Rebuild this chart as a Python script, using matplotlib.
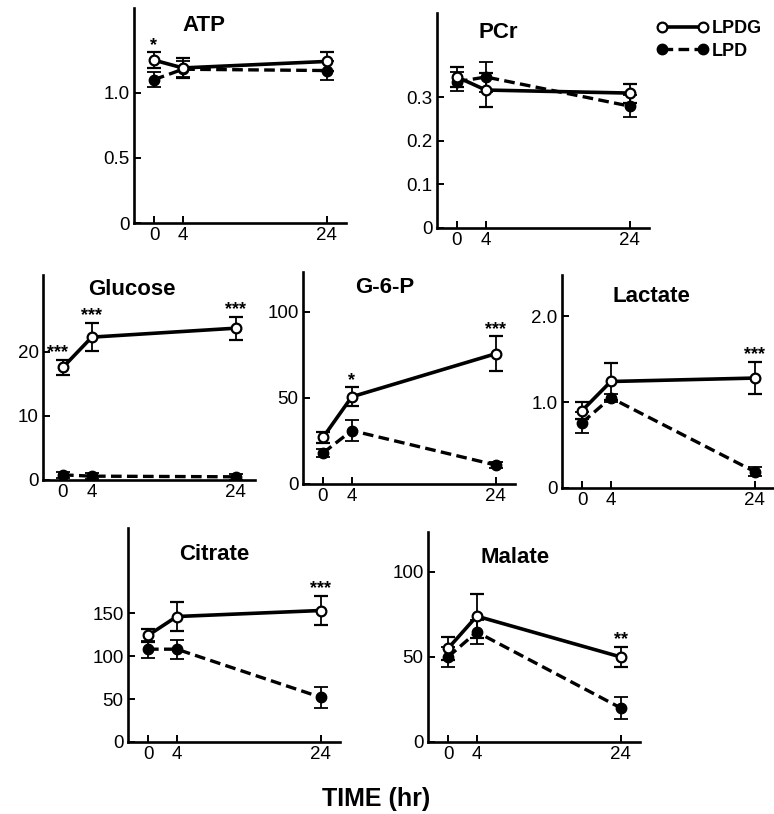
import numpy as np
import matplotlib.pyplot as plt
from matplotlib.lines import Line2D

plt.rcParams['font.family'] = ['Liberation Sans', 'DejaVu Sans']

# time points (hr)
times = [0, 4, 24]

# values: mean and error for each group
atp_lpdg = [1.25, 1.19, 1.24]
atp_lpdg_err = [0.06, 0.08, 0.07]
atp_lpd = [1.10, 1.18, 1.17]
atp_lpd_err = [0.06, 0.06, 0.07]
atp_stars = ['*', '', '']

pcr_lpdg = [0.347, 0.317, 0.31]
pcr_lpdg_err = [0.024, 0.04, 0.022]
pcr_lpd = [0.336, 0.347, 0.28]
pcr_lpd_err = [0.022, 0.034, 0.026]
pcr_stars = ['', '', '']

glucose_lpdg = [17.6, 22.3, 23.7]
glucose_lpdg_err = [1.2, 2.2, 1.8]
glucose_lpd = [0.8, 0.6, 0.5]
glucose_lpd_err = [0.5, 0.5, 0.5]
glucose_stars = ['***', '***', '***']

g6p_lpdg = [27, 50.6, 75.6]
g6p_lpdg_err = [3, 5.5, 10]
g6p_lpd = [18, 31, 11]
g6p_lpd_err = [2.5, 6, 2]
g6p_stars = ['', '*', '***']

lactate_lpdg = [0.90, 1.24, 1.28]
lactate_lpdg_err = [0.10, 0.21, 0.19]
lactate_lpd = [0.76, 1.05, 0.19]
lactate_lpd_err = [0.12, 0.05, 0.05]
lactate_stars = ['', '', '***']

citrate_lpdg = [124, 146, 153]
citrate_lpdg_err = [8, 17, 17]
citrate_lpd = [108, 108, 52]
citrate_lpd_err = [10, 11, 12]
citrate_stars = ['', '', '***']

malate_lpdg = [55, 74, 50]
malate_lpdg_err = [7, 13, 6]
malate_lpd = [50, 64.7, 20]
malate_lpd_err = [6, 7, 6.5]
malate_stars = ['', '', '**']

W, H = 774, 814
fig = plt.figure(figsize=(W / 100, H / 100), dpi=100)

PX = 7.2       # pixels per hour
XMIN, XMAX = -2.8, 26.7


def make_ax(x0_px, bottom_px, top_px, ymax):
    left = (x0_px + XMIN * PX) / W
    width = (XMAX - XMIN) * PX / W
    ax = fig.add_axes([left, 1 - bottom_px / H, width, (bottom_px - top_px) / H])
    ax.set_xlim(XMIN, XMAX)
    ax.set_ylim(0, ymax)
    for s in ['top', 'right']:
        ax.spines[s].set_visible(False)
    for s in ['left', 'bottom']:
        ax.spines[s].set_linewidth(1.9)
    ax.tick_params(direction='in', length=5, width=1.4, labelsize=13.5, pad=3)
    ax.set_xticks(times)
    return ax


def draw(ax, lpdg, lpdg_err, lpd, lpd_err, stars, title, tx, ty, yticks, ylabels,
         star_dx=None):
    ax.errorbar(times, lpd, yerr=lpd_err, fmt='o', ls=(0, (3.2, 1.6)), lw=2.4,
                color='black', ms=7.5, mfc='black', capsize=5, elinewidth=1.3,
                capthick=1.3, zorder=2)
    ax.errorbar(times, lpdg, yerr=lpdg_err, fmt='o', ls='-', lw=2.6,
                color='black', ms=7, mfc='white', mew=1.6, capsize=5,
                elinewidth=1.3, capthick=1.3, zorder=3)
    for i, s in enumerate(stars):
        if s:
            dx = star_dx[i] if star_dx else 0
            ax.annotate(s, (times[i], lpdg[i] + lpdg_err[i]), xytext=(dx, -1),
                        textcoords='offset points', ha='center', va='bottom',
                        fontsize=13, fontweight='bold')
    ax.text(tx, ty, title, transform=ax.transAxes, ha='center', va='center',
            fontsize=16, fontweight='bold')
    ax.set_yticks(yticks)
    ax.set_yticklabels(ylabels)


ax = make_ax(154, 223, 8, 1.65)
draw(ax, atp_lpdg, atp_lpdg_err, atp_lpd, atp_lpd_err, atp_stars, 'ATP',
     0.33, 0.92, [0, 0.5, 1.0], ['0', '0.5', '1.0'])

ax = make_ax(457, 228, 13, 0.494)
draw(ax, pcr_lpdg, pcr_lpdg_err, pcr_lpd, pcr_lpd_err, pcr_stars, 'PCr',
     0.29, 0.907, [0, 0.1, 0.2, 0.3], ['0', '0.1', '0.2', '0.3'])

ax = make_ax(63, 480, 275, 32)
draw(ax, glucose_lpdg, glucose_lpdg_err, glucose_lpd, glucose_lpd_err,
     glucose_stars, 'Glucose', 0.42, 0.927, [0, 10, 20], ['0', '10', '20'],
     star_dx=[-4, 0, 0])

ax = make_ax(323, 484, 272, 123)
draw(ax, g6p_lpdg, g6p_lpdg_err, g6p_lpd, g6p_lpd_err, g6p_stars, 'G-6-P',
     0.387, 0.925, [0, 50, 100], ['0', '50', '100'])

ax = make_ax(582, 488, 275, 2.48)
draw(ax, lactate_lpdg, lactate_lpdg_err, lactate_lpd, lactate_lpd_err,
     lactate_stars, 'Lactate', 0.42, 0.90, [0, 1.0, 2.0], ['0', '1.0', '2.0'])

ax = make_ax(148, 742, 528, 249)
draw(ax, citrate_lpdg, citrate_lpdg_err, citrate_lpd, citrate_lpd_err,
     citrate_stars, 'Citrate', 0.405, 0.874, [0, 50, 100, 150],
     ['0', '50', '100', '150'])

ax = make_ax(448, 742, 532, 123.5)
draw(ax, malate_lpdg, malate_lpdg_err, malate_lpd, malate_lpd_err,
     malate_stars, 'Malate', 0.41, 0.88, [0, 50, 100], ['0', '50', '100'])

# legend
handles = [Line2D([], [], color='black', lw=2.6, marker='o', ms=7, mfc='white', mew=1.6),
           Line2D([], [], color='black', lw=2.4, ls=(0, (3.2, 1.6)), marker='o', ms=7.5,
                  mfc='black')]
fig.legend(handles, ['LPDG', 'LPD'], numpoints=2, handlelength=2.9,
           handletextpad=0.2, labelspacing=0.3, frameon=False, loc='upper left',
           bbox_to_anchor=(640 / W, 1 - 4 / H), prop={'size': 13, 'weight': 'bold'})

fig.text(376 / W, 1 - 799 / H, 'TIME (hr)', ha='center', va='center',
         fontsize=18, fontweight='bold')

fig.savefig('out.png', dpi=100)
